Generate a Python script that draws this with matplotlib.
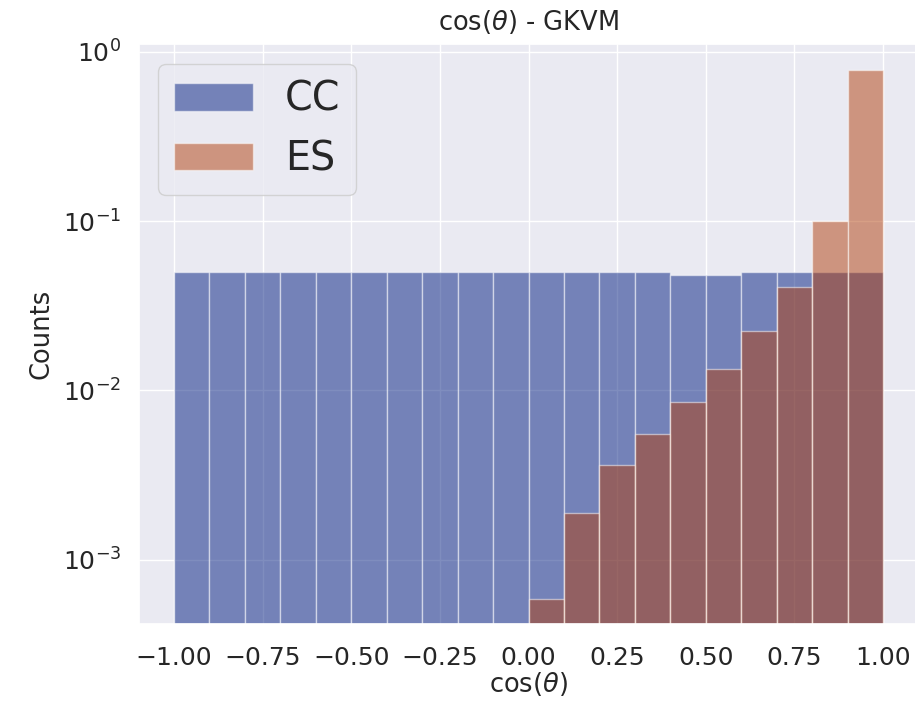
import numpy as np
import matplotlib
matplotlib.use("Agg")
import matplotlib.pyplot as plt
import seaborn as sns

# bin edges of cos(theta), 20 bins from -1 to 1
bin_edges = np.linspace(-1.0, 1.0, 21)
bin_centers = 0.5 * (bin_edges[:-1] + bin_edges[1:])

# normalised counts per bin
cc_counts = [0.0497, 0.0497, 0.0497, 0.0497, 0.0502, 0.0497, 0.0497, 0.0497,
             0.0497, 0.0497, 0.0497, 0.0497, 0.0497, 0.0497, 0.0482, 0.0482,
             0.0497, 0.0497, 0.0497, 0.0497]
es_counts = [0, 0, 0, 0, 0, 0, 0, 0, 0, 0,
             0.000585, 0.0019, 0.00361, 0.00553, 0.00857, 0.0134,
             0.0224, 0.0409, 0.100, 0.783]

sns.set_theme(style="darkgrid", palette="dark")
colors = sns.color_palette("dark")

fig = plt.figure(figsize=(9.15, 7.04), dpi=100)
ax = fig.add_axes([0.1514, 0.114, 0.8525, 0.8235])

ax.hist(bin_centers, bins=bin_edges, weights=cc_counts, log=True,
        color=colors[0], alpha=0.5, edgecolor="white", linewidth=1,
        label="CC")
ax.hist(bin_centers, bins=bin_edges, weights=es_counts, log=True,
        color=colors[1], alpha=0.5, edgecolor="white", linewidth=1,
        label="ES")

ax.set_xlim(-1.1, 1.1)
ax.set_ylim(4.19e-4, 1.11)
ax.set_xticks(np.arange(-1.0, 1.01, 0.25))
ax.tick_params(axis="x", labelsize=18, pad=10)
ax.tick_params(axis="y", labelsize=18, pad=6.5)
ax.set_xlabel(r"cos($\theta$)", fontsize=18.5, labelpad=0)
ax.set_ylabel("Counts", fontsize=18.5, labelpad=6)
ax.set_title(r"cos($\theta$) - GKVM", fontsize=18.5, pad=10)
ax.legend(loc="upper left", fontsize=28.5)

fig.savefig("out.png", dpi=100)
